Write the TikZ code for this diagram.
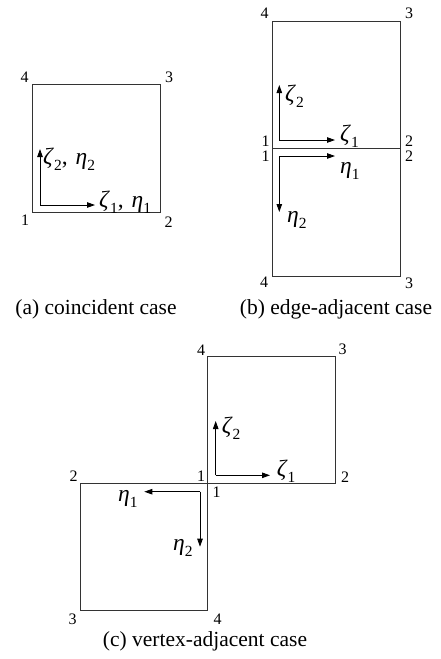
\documentclass[tikz,border=0pt]{standalone}
\usepackage{fontspec}
\setmainfont{Liberation Serif}
\newfontfamily\tms{Liberation Serif}
\usetikzlibrary{arrows.meta}
\newcommand\gsym[2]{\textit{#1}\raisebox{-6pt}{\fontsize{15.5}{15.5}\selectfont #2}}
\tikzset{
 elem/.style={draw=black!80, line width=0.9pt},
 axis/.style={-{Triangle[length=8pt,width=5.5pt]}, line width=0.9pt},
 num/.style={font=\tms\fontsize{16}{16}\selectfont, inner sep=0pt},
 greek/.style={font=\tms\fontsize{23.5}{23.5}\selectfont, inner sep=0pt, anchor=base west},
 captext/.style={font=\tms\fontsize{21.5}{24}\selectfont, inner sep=0pt, anchor=base},
}
\begin{document}
\begin{tikzpicture}[x=1pt,y=-1pt]
\useasboundingbox (0,0) rectangle (440,659);
% ---------- (a) ----------
\coordinate (A1) at (32,212);
\coordinate (A2) at (160,212);
\coordinate (A3) at (160,84);
\coordinate (A4) at (32,84);
\draw[elem] (A1)--(A2)--(A3)--(A4)--cycle;
\node[num] (a1) at (25,220) {1};
\node[num] (a2) at (168.5,222) {2};
\node[num] (a3) at (169,77) {3};
\node[num] (a4) at (24.5,77) {4};
\coordinate (aO) at (40,205);
\coordinate (aX) at (95,205);
\coordinate (aY) at (40,149);
\draw[axis] (aO)--(aX);
\draw[axis] (aO)--(aY);
\node[greek] (az1) at (99,207) {\gsym{ζ}{1},\hspace{8pt}\gsym{η}{1}};
\node[greek] (az2) at (43,164) {\gsym{ζ}{2},\hspace{8pt}\gsym{η}{2}};
\node[captext] (capa) at (96,314) {(a) coincident case};
% ---------- (b) ----------
\coordinate (B1) at (272,148);
\coordinate (B2) at (400,148);
\coordinate (B3) at (400,21);
\coordinate (B4) at (272,21);
\coordinate (B5) at (400,276);
\coordinate (B6) at (272,276);
\draw[elem] (B1)--(B2)--(B3)--(B4)--cycle;
\draw[elem] (B1)--(B2)--(B5)--(B6)--cycle;
\node[num] (b4) at (264.7,12.8) {4};
\node[num] (b3) at (409,12.8) {3};
\node[num] (b1u) at (265.5,141) {1};
\node[num] (b1l) at (265.5,156) {1};
\node[num] (b2u) at (409,141) {2};
\node[num] (b2l) at (409,156) {2};
\node[num] (b4l) at (264,282.5) {4};
\node[num] (b3l) at (409,283) {3};
\coordinate (bO) at (279.3,140);
\coordinate (bX) at (335,140);
\coordinate (bY) at (279.3,85);
\coordinate (bP) at (279.3,156);
\coordinate (bPX) at (335,156);
\coordinate (bPY) at (279.3,212);
\draw[axis] (bO)--(bX);
\draw[axis] (bO)--(bY);
\draw[axis] (bP)--(bPX);
\draw[axis] (bP)--(bPY);
\node[greek] (bz2) at (285,101) {\gsym{ζ}{2}};
\node[greek] (bz1) at (340,141) {\gsym{ζ}{1}};
\node[greek] (be1) at (340,173) {\gsym{η}{1}};
\node[greek] (be2) at (287,222) {\gsym{η}{2}};
\node[captext] (capb) at (336,314) {(b) edge-adjacent case};
% ---------- (c) ----------
\coordinate (U1) at (207.3,483.7);
\coordinate (U2) at (335.7,483.7);
\coordinate (U3) at (335.7,356);
\coordinate (U4) at (207.3,356);
\coordinate (L2) at (80,483.7);
\coordinate (L3) at (80,610.7);
\coordinate (L4) at (207.3,610.7);
\draw[elem] (U1)--(U2)--(U3)--(U4)--cycle;
\draw[elem] (U1)--(L2)--(L3)--(L4)--cycle;
\node[num] (c4u) at (201,350) {4};
\node[num] (c3u) at (342.5,349) {3};
\node[num] (c1l) at (201,476) {1};
\node[num] (c1u) at (216.7,492) {1};
\node[num] (c2l) at (73.5,476) {2};
\node[num] (c2u) at (345,477) {2};
\node[num] (c3l) at (72.5,619) {3};
\node[num] (c4l) at (217.5,619) {4};
\coordinate (cO) at (215.7,475.3);
\coordinate (cY) at (215.7,421);
\coordinate (cX) at (270,475.3);
\coordinate (cP) at (200,491.7);
\coordinate (cPX) at (144.3,491.7);
\coordinate (cPY) at (200,546.7);
\draw[axis] (cO)--(cY);
\draw[axis] (cO)--(cX);
\draw[axis] (cP)--(cPX);
\draw[axis] (cP)--(cPY);
\node[greek] (cz2) at (221.7,433) {\gsym{ζ}{2}};
\node[greek] (cz1) at (276.7,476) {\gsym{ζ}{1}};
\node[greek] (ce1) at (118,501.5) {\gsym{η}{1}};
\node[greek] (ce2) at (173,550) {\gsym{η}{2}};
\node[captext] (capc) at (205,646) {(c) vertex-adjacent case};
\end{tikzpicture}
\end{document}
